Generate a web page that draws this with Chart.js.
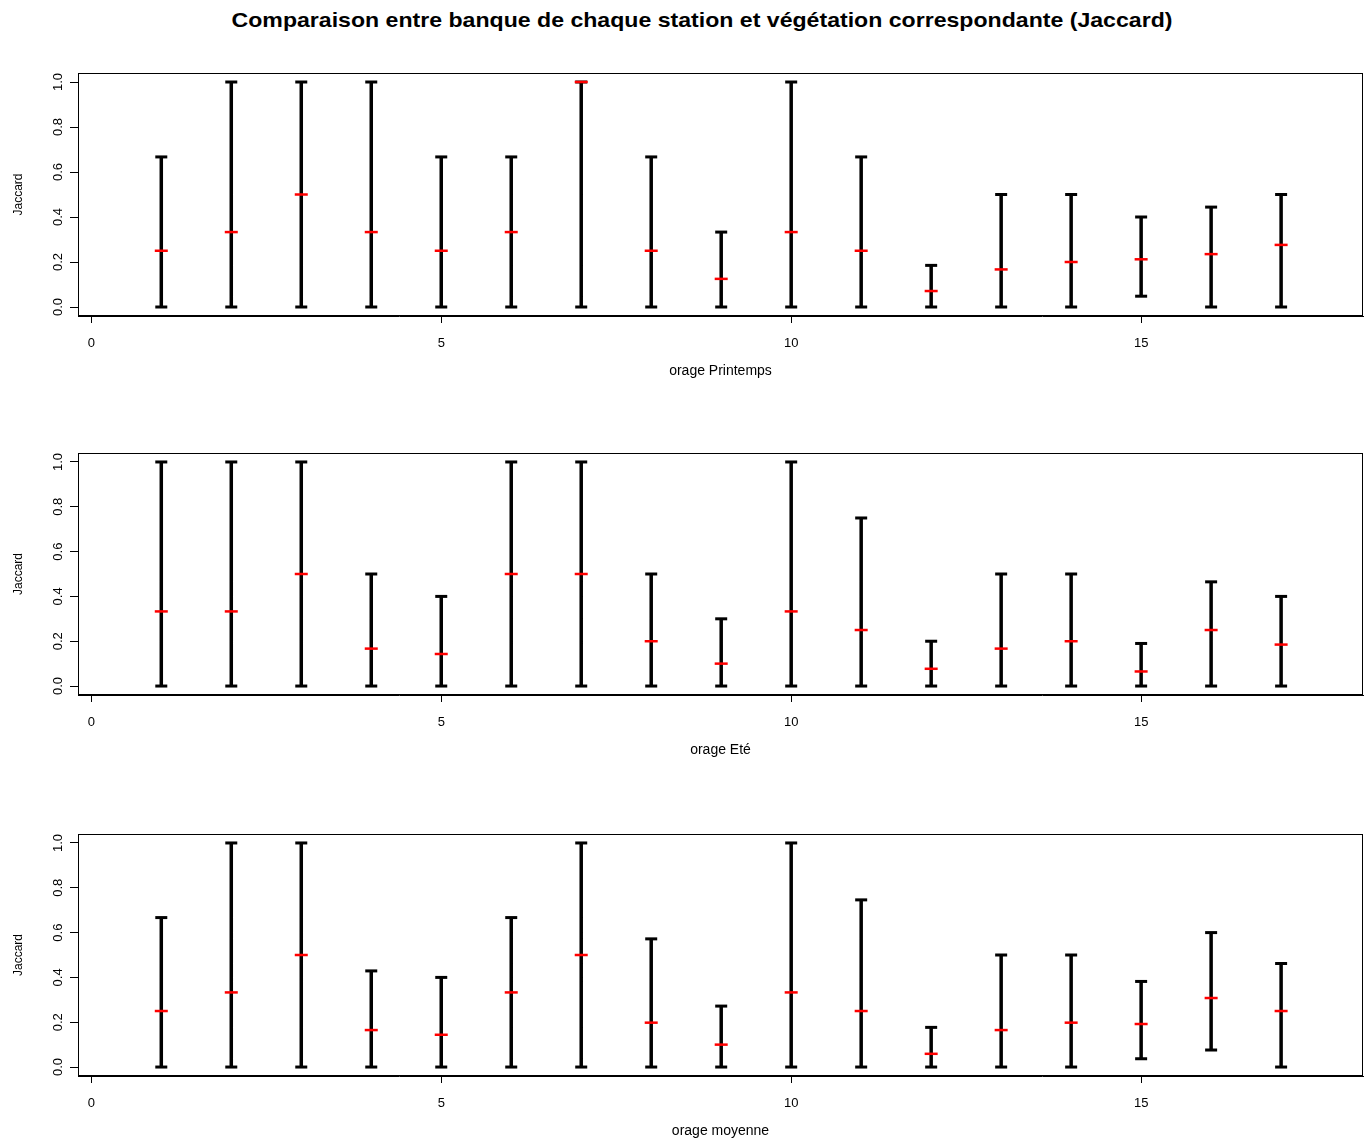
<!DOCTYPE html>
<html>
<head>
<meta charset="utf-8">
<script src="https://cdn.jsdelivr.net/npm/chart.js@4.4.1/dist/chart.umd.min.js"></script>
<style>
  body { margin: 0; background: #fff; width: 1368px; height: 1140px; position: relative; overflow: hidden; font-family: "Liberation Sans", Arial, sans-serif; }
  #title { position: absolute; top: 8px; left: 36px; width: 1332px; text-align: center; font-weight: bold; font-size: 21px; line-height: 24px; color: #000; transform: scaleX(1.1); transform-origin: 666px 12px; }
  canvas { position: absolute; left: 0; }
</style>
</head>
<body>
<div id="title">Comparaison entre banque de chaque station et végétation correspondante (Jaccard)</div>
<canvas id="c1" width="1368" height="324" style="top:60px"></canvas>
<canvas id="c2" width="1368" height="323" style="top:440px"></canvas>
<canvas id="c3" width="1368" height="323" style="top:821px"></canvas>
<script>
const stations = [1, 2, 3, 4, 5, 6, 7, 8, 9, 10, 11, 12, 13, 14, 15, 16, 17];
const xTicks = [0, 5, 10, 15];
const yTicks = [0, 0.2, 0.4, 0.6, 0.8, 1.0];

// orage Printemps
const printLow  = [0, 0, 0, 0, 0, 0, 0, 0, 0, 0, 0, 0, 0, 0, 0.048, 0, 0];
const printHigh = [0.667, 1, 1, 1, 0.667, 0.667, 1, 0.667, 0.333, 1, 0.667, 0.185, 0.5, 0.5, 0.4, 0.444, 0.5];
const printMed  = [0.25, 0.333, 0.5, 0.333, 0.25, 0.333, 1, 0.25, 0.125, 0.333, 0.25, 0.071, 0.167, 0.2, 0.212, 0.235, 0.276];

// orage Eté
const eteLow  = [0, 0, 0, 0, 0, 0, 0, 0, 0, 0, 0, 0, 0, 0, 0, 0, 0];
const eteHigh = [1, 1, 1, 0.5, 0.4, 1, 1, 0.5, 0.3, 1, 0.75, 0.2, 0.5, 0.5, 0.19, 0.465, 0.4];
const eteMed  = [0.333, 0.333, 0.5, 0.167, 0.143, 0.5, 0.5, 0.2, 0.1, 0.333, 0.25, 0.077, 0.167, 0.2, 0.065, 0.25, 0.185];

// orage moyenne
const moyLow  = [0, 0, 0, 0, 0, 0, 0, 0, 0, 0, 0, 0, 0, 0, 0.037, 0.076, 0];
const moyHigh = [0.667, 1, 1, 0.429, 0.4, 0.667, 1, 0.572, 0.272, 1, 0.746, 0.177, 0.5, 0.5, 0.382, 0.6, 0.462];
const moyMed  = [0.25, 0.333, 0.5, 0.165, 0.144, 0.333, 0.5, 0.198, 0.1, 0.333, 0.25, 0.059, 0.165, 0.198, 0.192, 0.308, 0.25];

const panelLabels = ['orage Printemps', 'orage Eté', 'orage moyenne'];

const FONT = '"Liberation Sans", Arial, sans-serif';

// box around the plot + rotated y tick labels (R style)
const frame = {
  id: 'frame',
  afterDraw(chart) {
    const { ctx, chartArea: a, scales: { y } } = chart;
    ctx.save();
    ctx.strokeStyle = '#000';
    ctx.lineWidth = 1;
    ctx.strokeRect(a.left + 0.5, a.top + 0.5, a.width - 1, a.height - 1);
    ctx.font = '13px ' + FONT;
    ctx.fillStyle = '#000';
    ctx.textAlign = 'center';
    ctx.textBaseline = 'middle';
    yTicks.forEach(v => {
      ctx.save();
      ctx.translate(a.left - 20, y.getPixelForValue(v));
      ctx.rotate(-Math.PI / 2);
      ctx.fillText(v.toFixed(1), 0, 0);
      ctx.restore();
    });
    ctx.restore();
  }
};

function makePanel(id, low, high, med, label) {
  const bars = [];
  stations.forEach((s, i) => {
    bars.push({ x: s, y: low[i] }, { x: s, y: high[i] }, { x: s, y: null });
  });
  const caps = [];
  stations.forEach((s, i) => {
    caps.push({ x: s, y: low[i] }, { x: s, y: high[i] });
  });
  const meds = stations.map((s, i) => ({ x: s, y: med[i] }));

  new Chart(document.getElementById(id), {
    type: 'scatter',
    data: {
      datasets: [
        { data: meds, pointStyle: 'line', pointRadius: 6.5, pointBorderWidth: 2.5, pointBorderColor: '#ff0000', order: 0 },
        { data: caps, pointStyle: 'line', pointRadius: 6, pointBorderWidth: 3, pointBorderColor: '#000', order: 1 },
        { data: bars, showLine: true, spanGaps: false, pointRadius: 0, borderColor: '#000', borderWidth: 3.5, borderCapStyle: 'butt', order: 2 }
      ]
    },
    options: {
      responsive: false,
      animation: false,
      layout: { autoPadding: false, padding: { top: 13, right: 5, left: 0, bottom: 0 } },
      plugins: { legend: { display: false }, tooltip: { enabled: false } },
      scales: {
        x: {
          type: 'linear',
          min: -0.19,
          max: 18.17,
          afterBuildTicks: axis => { axis.ticks = xTicks.map(v => ({ value: v })); },
          afterFit: axis => { axis.height = 68; },
          grid: { display: true, drawOnChartArea: false, drawTicks: true, tickLength: 7, color: '#000' },
          border: { display: true, color: '#000' },
          ticks: { color: '#000', font: { family: FONT, size: 13 }, padding: 13, maxRotation: 0 },
          title: { display: true, text: label, color: '#000', font: { family: FONT, size: 14 } }
        },
        y: {
          type: 'linear',
          min: -0.04,
          max: 1.04,
          afterBuildTicks: axis => { axis.ticks = yTicks.map(v => ({ value: v })); },
          afterFit: axis => { axis.width = 78; },
          grid: { display: true, drawOnChartArea: false, drawTicks: true, tickLength: 8, color: '#000' },
          border: { display: true, color: '#000' },
          ticks: { display: false },
          title: { display: true, text: 'Jaccard', color: '#000', font: { family: FONT, size: 12 }, padding: { top: 11, bottom: 0 } }
        }
      }
    },
    plugins: [frame]
  });
}

makePanel('c1', printLow, printHigh, printMed, panelLabels[0]);
makePanel('c2', eteLow, eteHigh, eteMed, panelLabels[1]);
makePanel('c3', moyLow, moyHigh, moyMed, panelLabels[2]);
</script>
</body>
</html>
